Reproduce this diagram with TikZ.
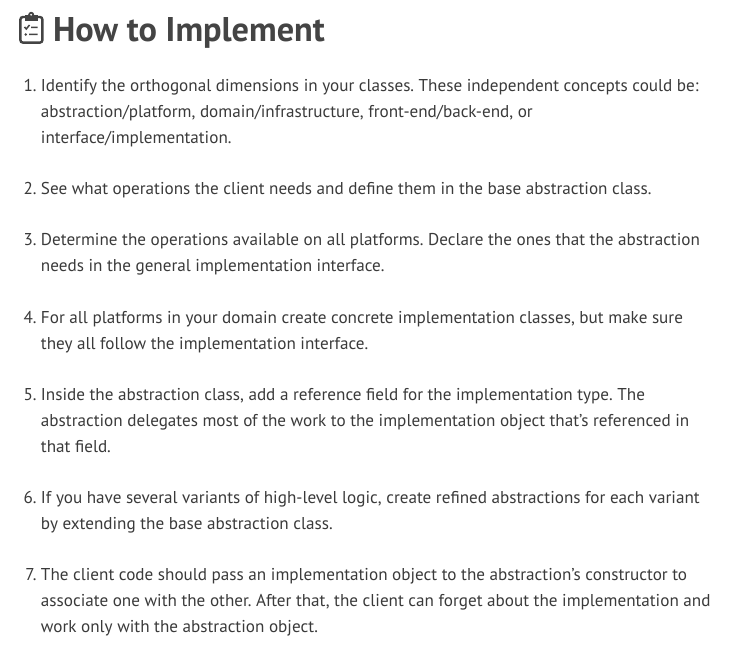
\documentclass[tikz,border=0pt]{standalone}
\usepackage{fontspec}
\setmainfont{PT Sans}
\definecolor{ink}{HTML}{3A3A3A}
\definecolor{head}{HTML}{444444}
\tikzset{
 line/.style={anchor=base west,inner sep=0pt,outer sep=0pt,font=\fontsize{17.13pt}{20pt}\selectfont\frenchspacing,text=ink},
 num/.style={anchor=base east,inner sep=0pt,outer sep=0pt,font=\fontsize{17.13pt}{20pt}\selectfont,text=ink},
 title/.style={anchor=base west,inner sep=0pt,outer sep=0pt,font=\fontsize{34.3pt}{40pt}\selectfont\bfseries,text=head},
 ico/.style={draw=head,line width=2.4pt,rounded corners=2.5pt}
}
\begin{document}
\begin{tikzpicture}[x=1pt,y=-1pt]
\useasboundingbox[fill=white] (0,0) rectangle (729,650);
\node[title] (t) at (53,41.2) {How to Implement};
\draw[ico] (20.4,17) rectangle (42.4,42.6);
\fill[head] (25,15.5) rectangle (37.5,21);
\fill[head] (31.2,14.8) circle (3pt);
\fill[white] (31.2,14.8) circle (1pt);
\draw[head,line width=1.5pt] (24.5,27)--(26.3,29)--(29.5,25) (31,27.5)--(37.5,27.5) (29,34.5)--(37.5,34.5);
\fill[head] (25.8,34.5) circle (1.4pt);
\foreach \n/\x/\y/\s in {
 a/41/92/{Identify the orthogonal dimensions in your classes. These independent concepts could be:},
 b/41/118/{abstraction/platform, domain/infrastructure, front-end/back-end, or},
 c/41/144/{interface/implementation.},
 d/41/195/{See what operations the client needs and define them in the base abstraction class.},
 e/41/246/{Determine the operations available on all platforms. Declare the ones that the abstraction},
 f/41/272/{needs in the general implementation interface.},
 g/41/323.2/{For all platforms in your domain create concrete implementation classes, but make sure},
 h/41/349.2/{they all follow the implementation interface.},
 i/41/400.2/{Inside the abstraction class, add a reference field for the implementation type. The},
 j/41/426.2/{abstraction delegates most of the work to the implementation object that’s referenced in},
 k/41/452.2/{that field.},
 l/41/503.2/{If you have several variants of high-level logic, create refined abstractions for each variant},
 m/41/529.2/{by extending the base abstraction class.},
 n/41/580.2/{The client code should pass an implementation object to the abstraction’s constructor to},
 o/41/606.2/{associate one with the other. After that, the client can forget about the implementation and},
 p/41/632/{work only with the abstraction object.}}
 {\node[line] (\n) at (\x,\y) {\s};}
\foreach \n/\y/\s in {n1/92/1.,n2/195/2.,n3/246/3.,n4/323.2/4.,n5/400.2/5.,n6/503.2/6.,n7/580.2/7.}
 {\node[num] (\n) at (36.6,\y) {\s};}
\end{tikzpicture}
\end{document}
